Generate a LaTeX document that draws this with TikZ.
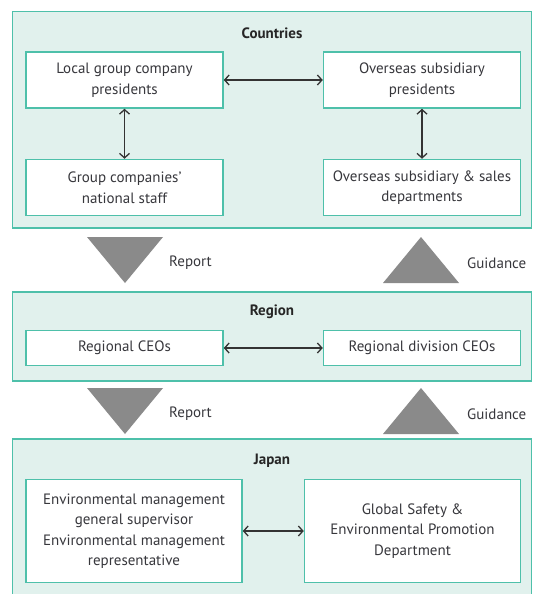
\documentclass[tikz,border=0pt]{standalone}
\usepackage{fontspec}
\setmainfont{PT Sans}
\usetikzlibrary{positioning,arrows.meta}
\definecolor{ogteal}{RGB}{78,192,170}
\definecolor{ogmint}{RGB}{225,241,237}
\definecolor{ogtext}{RGB}{55,55,60}
\definecolor{oggrey}{RGB}{138,138,138}
\tikzset{
  og/.style={font=\fontsize{15}{20.5}\selectfont, text=ogtext},
  ogpanel/.style={
    draw=ogteal, fill=ogmint, line width=1.5pt, minimum width=519pt, inner sep=0pt
  },
  ogbox/.style={
    og, draw=ogteal, fill=white, line width=1.5pt, align=center,
    inner sep=0pt, minimum width=197pt, minimum height=56pt
  },
  ogtitle/.style={og, font=\fontsize{15}{18}\selectfont\bfseries, text=black!85},
  ogarr/.style={
    {Straight Barb[length=4.5pt,width=10pt]}-{Straight Barb[length=4.5pt,width=10pt]},
    line width=1.3pt, draw=black!80
  },
  ogtri/.style={fill=oggrey, draw=none},
  oglbl/.style={og, anchor=west, inner sep=0pt},
}

\begin{document}
\begin{tikzpicture}[x=1pt, y=-1pt]
    \useasboundingbox (0,0) rectangle (533,594);

    % panels
    \node[ogpanel, minimum height=216.5pt] (countries) at (272,119.75) {};
    \node[ogpanel, minimum height=89pt] (region) at (272,336.5) {};
    \node[ogpanel, minimum height=171pt] (japan) at (272,524.5) {};

    \node[ogtitle] (ctitle) at (272,33) {Countries};
    \node[ogtitle] (rtitle) at (272,312) {Region};
    \node[ogtitle] (jtitle) at (272,461) {Japan};

    % countries
    \node[ogbox] (lgp) at (124.5,80) {Local group company\\presidents};
    \node[ogbox, right=99pt of lgp] (osp) {Overseas subsidiary\\presidents};
    \node[ogbox, below=50pt of lgp] (gcs) {Group companies'\\national staff};
    \node[ogbox, below=50pt of osp] (osd) {Overseas subsidiary \& sales\\departments};

    \draw[ogarr] (lgp) -- (osp);
    \draw[ogarr] (lgp) -- (gcs);
    \draw[ogarr] (osp) -- (osd);

    % region
    \node[ogbox, minimum height=35pt] (rceo) at (124.5,348) {Regional CEOs};
    \node[ogbox, minimum height=35pt, right=99pt of rceo] (rdiv) {Regional division CEOs};

    \draw[ogarr] (rceo) -- (rdiv);

    % japan
    \node[ogbox, minimum width=216pt, minimum height=103pt] (emg) at (134,531)
      {Environmental management\\general supervisor\\Environmental management\\representative};
    \node[ogbox, minimum width=216pt, minimum height=103pt, right=61pt of emg] (gsep)
      {Global Safety \&\\Environmental Promotion\\Department};

    \draw[ogarr] (emg) -- (gsep);

    % report / guidance
    \foreach \ty/\ly in {237/263, 388/414} {
      \fill[ogtri] (87,\ty) -- ++(76,0) -- ++(-38,46) -- cycle;
      \fill[ogtri] (383,\ty+46) -- ++(76,0) -- ++(-38,-46) -- cycle;
    }
    \node[oglbl] (rep1) at (169,263) {Report};
    \node[oglbl] (gui1) at (467,263) {Guidance};
    \node[oglbl] (rep2) at (169,414) {Report};
    \node[oglbl] (gui2) at (467,414) {Guidance};
\end{tikzpicture}
\end{document}
